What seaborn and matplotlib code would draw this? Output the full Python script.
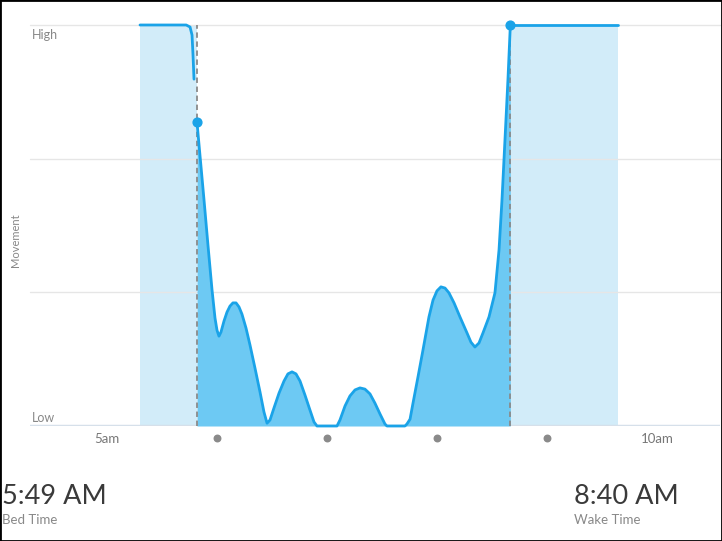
import numpy as np
import pandas as pd
import seaborn as sns
import matplotlib.pyplot as plt
from matplotlib.patches import Rectangle

# hours since midnight, movement on 0 (Low) .. 100 (High)
awake_before_h = [5.30, 5.72, 5.755, 5.773, 5.782, 5.791]
awake_before_v = [100, 100, 99.5, 97.5, 92.5, 86.5]

sleep_h = [5.818, 5.845, 5.882, 5.918, 5.955, 5.982, 6.000, 6.018, 6.036, 6.064,
           6.091, 6.118, 6.145, 6.173, 6.200, 6.227, 6.264, 6.300, 6.345, 6.391,
           6.427, 6.455, 6.482, 6.518, 6.564, 6.609, 6.645, 6.682, 6.718, 6.755,
           6.800, 6.845, 6.882, 6.909, 7.091, 7.118, 7.164, 7.209, 7.255, 7.300,
           7.345, 7.391, 7.436, 7.482, 7.527, 7.545, 7.709, 7.727, 7.755, 7.782,
           7.827, 7.873, 7.927, 7.964, 8.000, 8.036, 8.073, 8.109, 8.155, 8.209,
           8.273, 8.309, 8.345, 8.382, 8.418, 8.473, 8.527, 8.564, 8.591, 8.618,
           8.645, 8.667]
sleep_v = [75.8, 67.6, 56.4, 45.1, 33.9, 26.9, 23.9, 22.4, 23.4, 26.2,
           28.4, 29.9, 30.7, 30.7, 29.7, 27.9, 24.4, 20.2, 14.5, 8.5,
           3.5, 0.7, 1.5, 4.5, 8.2, 11.2, 13.0, 13.5, 13.0, 11.2,
           7.7, 4.0, 1.0, 0, 0, 1.5, 5.0, 7.5, 9.0, 9.5,
           9.2, 8.0, 5.7, 3.0, 0.5, 0, 0, 0.5, 1.7, 5.7,
           12.2, 19.0, 27.2, 31.4, 33.7, 34.7, 34.4, 33.2, 30.7, 27.2,
           23.2, 20.9, 19.7, 20.7, 23.2, 27.2, 33.2, 43.9, 56.4, 71.3,
           86.3, 100]

awake_after_h = [8.667, 9.65]
awake_after_v = [100, 100]

window_start, window_end = 5.30, 9.65
bed_time, wake_time = 5 + 49 / 60, 8 + 40 / 60
hour_dots = [6, 7, 8, 9]
tick_hours = [5, 10]
tick_labels = ['5am', '10am']

line_col = '#1aa3e8'
fill_col = '#6dc9f3'
band_col = '#d2ecf9'
grey = '#8a8a8a'

sns.set_theme(style='white')
plt.rcParams['font.family'] = ['Lato', 'DejaVu Sans']

fig = plt.figure(figsize=(7.22, 5.41), dpi=100)
ax = fig.add_axes([30 / 722, 115 / 541, 690 / 722, 401 / 541])
ax.set_xlim(4.3, 10.573)
ax.set_ylim(0, 100)

# awake parts of the window are shaded, asleep part is white
ax.axvspan(window_start, bed_time, color=band_col, lw=0, zorder=0)
ax.axvspan(wake_time, window_end, color=band_col, lw=0, zorder=0)
for g in [33.3, 66.7, 100]:
    ax.axhline(g, color='#e6e6e6', lw=1, zorder=0.5, clip_on=False)
ax.axhline(0, color='#d6e0ea', lw=2.5, zorder=0.5)

sleep = pd.DataFrame({'hour': sleep_h, 'movement': sleep_v})
ax.fill_between(sleep.hour, sleep.movement, 0, color=fill_col, lw=0, zorder=1)

for h, v in [(awake_before_h, awake_before_v), (sleep_h, sleep_v), (awake_after_h, awake_after_v)]:
    sns.lineplot(x=h, y=v, ax=ax, color=line_col, lw=2, sort=False, estimator=None, zorder=3,
                 clip_on=False)

for t in [bed_time, wake_time]:
    ax.axvline(t, color=grey, lw=1.3, ls=(0, (3, 2)), zorder=2)

ax.scatter([bed_time, wake_time], [sleep_v[0], sleep_v[-1]], s=40, color=line_col, zorder=4,
           clip_on=False)

ax.scatter(hour_dots, [-0.03] * len(hour_dots), s=22, color=grey, transform=ax.get_xaxis_transform(),
           clip_on=False)

ax.set_xticks(tick_hours)
ax.set_xticklabels(tick_labels, fontsize=9.5, color='#777777')
ax.tick_params(axis='x', length=0, pad=5)
ax.set_yticks([])
for s in ax.spines.values():
    s.set_visible(False)

ax.text(0.003, 0.975, 'High', transform=ax.transAxes, fontsize=9, color='#888888', va='center')
ax.text(0.003, 0.02, 'Low', transform=ax.transAxes, fontsize=9, color='#888888', va='center')
fig.text(15 / 722, 1 - 240 / 541, 'Movement', rotation=90, fontsize=8, color='#888888',
         ha='center', va='center')

fig.text(2 / 722, 1 - 496 / 541, '5:49 AM', fontsize=19.5, color='#3a3a3a', va='center')
fig.text(2 / 722, 1 - 520 / 541, 'Bed Time', fontsize=9.5, color='#888888', va='center')
fig.text(574 / 722, 1 - 496 / 541, '8:40 AM', fontsize=19.5, color='#3a3a3a', va='center')
fig.text(574 / 722, 1 - 520 / 541, 'Wake Time', fontsize=9.5, color='#888888', va='center')

fig.patches.append(Rectangle((0, 0), 1, 1, transform=fig.transFigure, fill=False,
                             edgecolor='black', lw=2))

fig.savefig('out.png', dpi=100)
